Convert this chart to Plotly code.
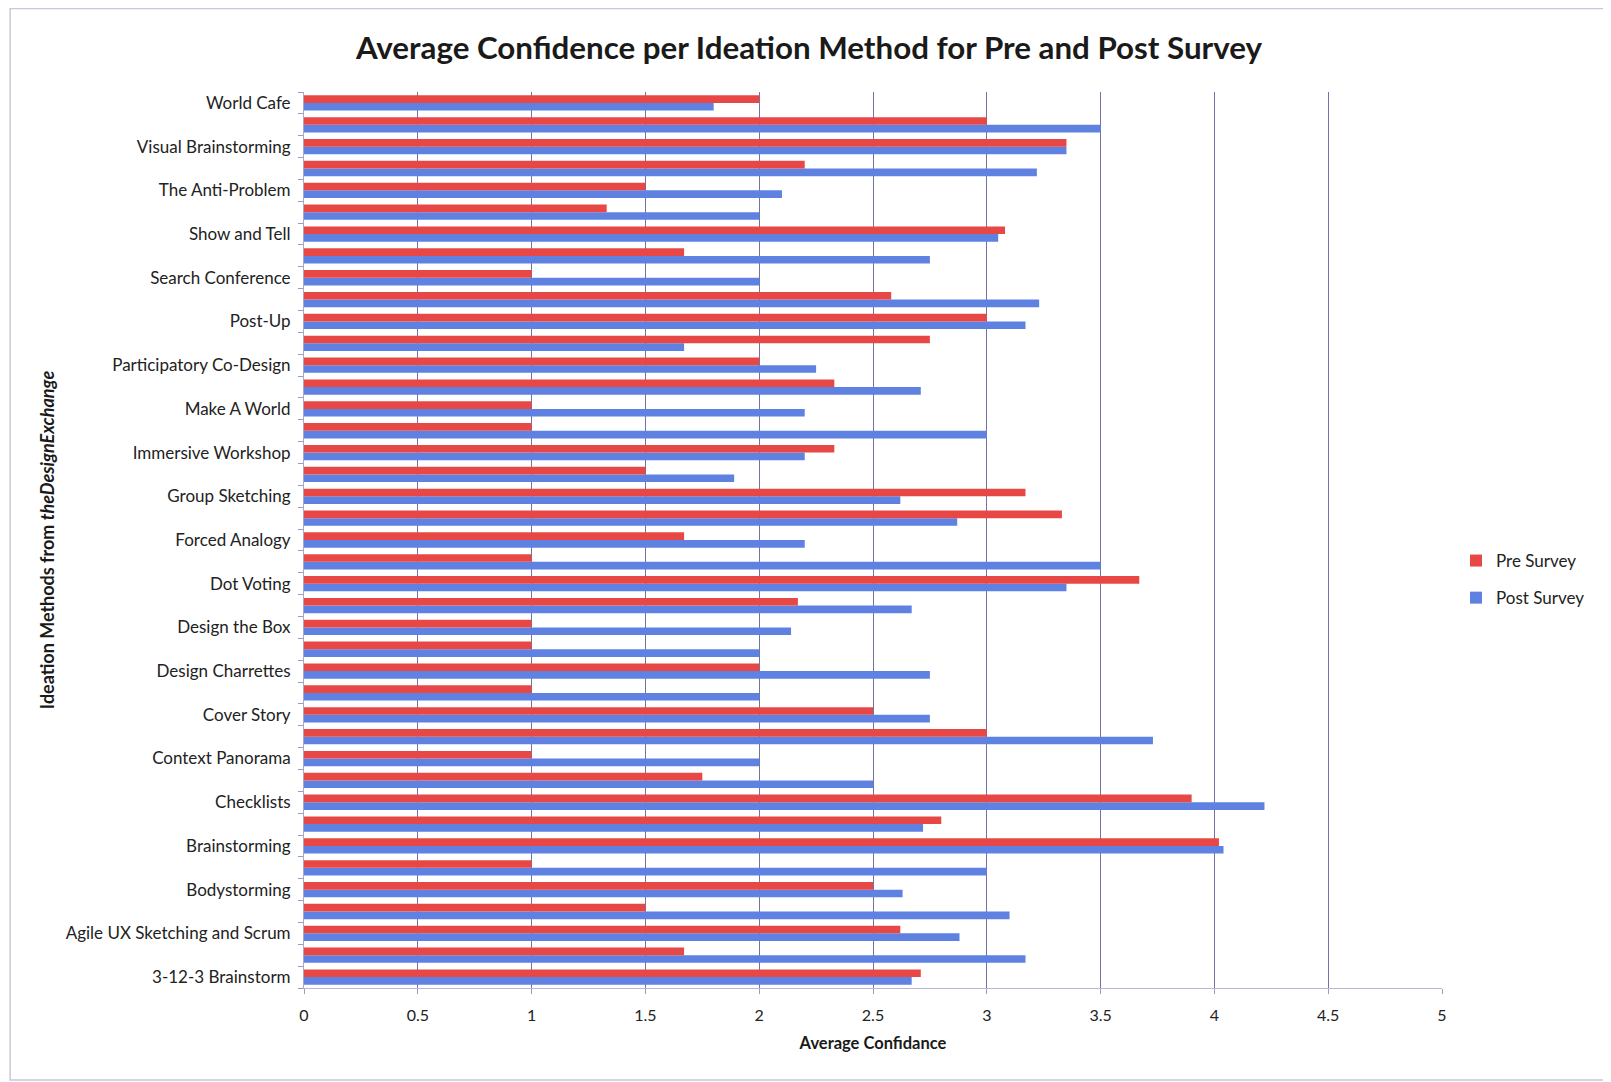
import plotly.graph_objects as go

# Categories from bottom to top (Excel shows every other label; unlabeled names are unknown)
categories = [
    "3-12-3 Brainstorm", "(unlabeled 1)", "Agile UX Sketching and Scrum", "(unlabeled 2)",
    "Bodystorming", "(unlabeled 3)", "Brainstorming", "(unlabeled 4)",
    "Checklists", "(unlabeled 5)", "Context Panorama", "(unlabeled 6)",
    "Cover Story", "(unlabeled 7)", "Design Charrettes", "(unlabeled 8)",
    "Design the Box", "(unlabeled 9)", "Dot Voting", "(unlabeled 10)",
    "Forced Analogy", "(unlabeled 11)", "Group Sketching", "(unlabeled 12)",
    "Immersive Workshop", "(unlabeled 13)", "Make A World", "(unlabeled 14)",
    "Participatory Co-Design", "(unlabeled 15)", "Post-Up", "(unlabeled 16)",
    "Search Conference", "(unlabeled 17)", "Show and Tell", "(unlabeled 18)",
    "The Anti-Problem", "(unlabeled 19)", "Visual Brainstorming", "(unlabeled 20)",
    "World Cafe",
]
tick_labels = [c if not c.startswith("(unlabeled") else "" for c in categories]

pre_survey = [
    2.71, 1.67, 2.62, 1.5, 2.5, 1.0, 4.02, 2.8, 3.9, 1.75, 1.0,
    3.0, 2.5, 1.0, 2.0, 1.0, 1.0, 2.17, 3.67, 1.0, 1.67,
    3.33, 3.17, 1.5, 2.33, 1.0, 1.0, 2.33, 2.0, 2.75, 3.0,
    2.58, 1.0, 1.67, 3.08, 1.33, 1.5, 2.2, 3.35, 3.0, 2.0,
]
post_survey = [
    2.67, 3.17, 2.88, 3.1, 2.63, 3.0, 4.04, 2.72, 4.22, 2.5, 2.0,
    3.73, 2.75, 2.0, 2.75, 2.0, 2.14, 2.67, 3.35, 3.5, 2.2,
    2.87, 2.62, 1.89, 2.2, 3.0, 2.2, 2.71, 2.25, 1.67, 3.17,
    3.23, 2.0, 2.75, 3.05, 2.0, 2.1, 3.22, 3.35, 3.5, 1.8,
]
x_ticks = [0, 0.5, 1, 1.5, 2, 2.5, 3, 3.5, 4, 4.5, 5]
x_tick_text = ["0", "0.5", "1", "1.5", "2", "2.5", "3", "3.5", "4", "4.5", "5"]

FONT = "Lato, 'Open Sans', sans-serif"

fig = go.Figure()
fig.add_trace(go.Bar(
    y=categories, x=post_survey, orientation="h", name="Post Survey",
    marker=dict(color="#5f82e2", line=dict(width=0)), legendgroup="post", legendrank=2,
))
fig.add_trace(go.Bar(
    y=categories, x=pre_survey, orientation="h", name="Pre Survey",
    marker=dict(color="#e84845", line=dict(width=0)), legendgroup="pre", legendrank=1,
))

W, H = 1611, 1082
# positions below are in figure coordinates (the page adds an 8px body margin)
L, R, T, B = 296, 176.5, 84, 102
pw, ph = W - L - R, H - T - B

def px_x(x):
    return (x - L) / pw

def px_y(y):
    return 1 - (y - T) / ph

fig.update_layout(
    width=W, height=H,
    margin=dict(l=L, r=R, t=T, b=B, autoexpand=False),
    paper_bgcolor="white", plot_bgcolor="white",
    barmode="group", bargap=0.3, bargroupgap=0.0,
    font=dict(family=FONT, color="#222222"),
    title=dict(
        text="<b>Average Confidence per Ideation Method for Pre and Post Survey</b>",
        x=801 / W, xref="container", xanchor="center",
        y=1 - 40 / H, yref="container", yanchor="middle",
        font=dict(size=31.3, family=FONT, color="#1a1a1a"),
    ),
    legend=dict(
        x=1448 / W, xref="container", xanchor="left",
        y=1 - 535 / H, yref="container", yanchor="top",
        traceorder="grouped", tracegroupgap=12,
        font=dict(size=17, family=FONT, color="#222222"),
        itemwidth=30, bgcolor="rgba(0,0,0,0)",
    ),
    xaxis=dict(
        range=[0, 5], tickvals=x_ticks, ticktext=x_tick_text,
        showgrid=True, gridcolor="#7272a6", gridwidth=1,
        showline=True, linecolor="#b8b8d4", linewidth=1,
        ticks="outside", ticklen=5, tickcolor="#9a9ac0",
        tickfont=dict(size=16, family=FONT, color="#222222"),
        ticklabelstandoff=8,
        zeroline=False,
        title=dict(text="<b>Average Confidance</b>", standoff=14,
                   font=dict(size=16.5, family=FONT, color="#1a1a1a")),
    ),
    yaxis=dict(
        type="category", categoryorder="array", categoryarray=categories,
        tickvals=categories, ticktext=tick_labels, tickson="boundaries",
        showgrid=False,
        showline=True, linecolor="#a8a8c8", linewidth=1,
        ticks="outside", ticklen=5, tickcolor="#9a9ac0",
        tickfont=dict(size=17, family=FONT, color="#222222"),
        ticklabelstandoff=9,
        title=dict(text="<b>Ideation Methods from <i>theDesignExchange</i></b>", standoff=6,
                   font=dict(size=18, family=FONT, color="#1a1a1a")),
    ),
)

# thin outer frame around the chart, as in the reference
fig.add_shape(
    type="rect", xref="paper", yref="paper",
    x0=px_x(2), x1=px_x(1601), y0=px_y(1072), y1=px_y(0.5),
    line=dict(color="#c8c8d8", width=1.5), fillcolor="rgba(0,0,0,0)", layer="below",
)

fig.write_html("out.html")
